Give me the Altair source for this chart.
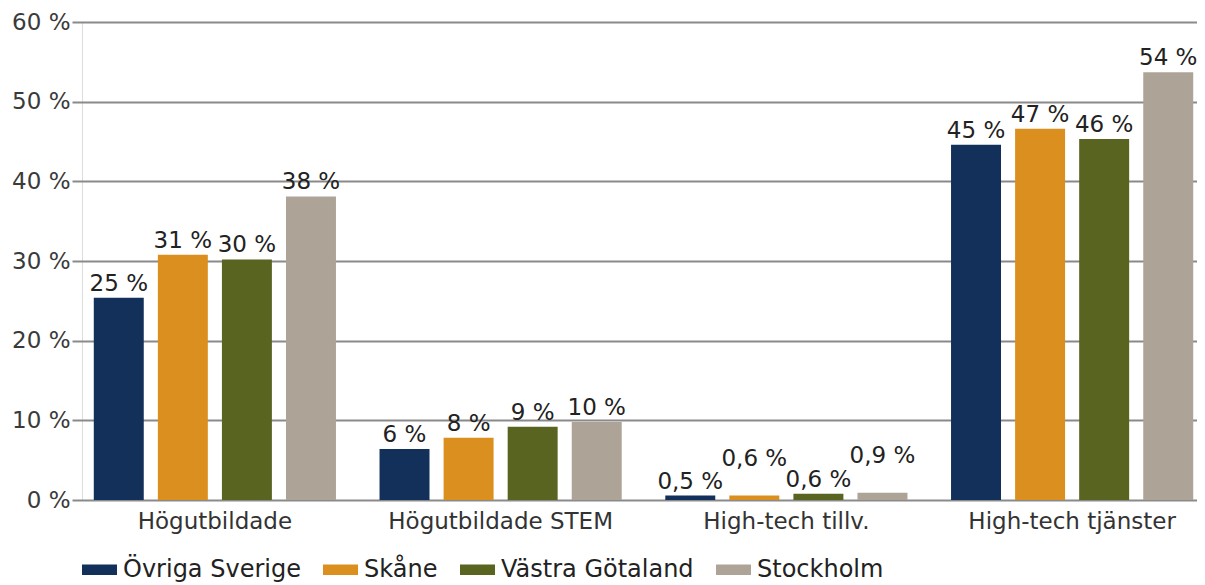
import altair as alt
import pandas as pd

groups = ["Högutbildade", "Högutbildade STEM", "High-tech tillv.", "High-tech tjänster"]
series = ["Övriga Sverige", "Skåne", "Västra Götaland", "Stockholm"]
colors = ["#13305a", "#db8f1f", "#586420", "#ada497"]

# values per group, in series order (percent)
hogutbildade = [25.4, 30.8, 30.2, 38.1]
stem = [6.4, 7.8, 9.2, 9.8]
tillv = [0.55, 0.55, 0.8, 0.9]
tjanster = [44.6, 46.6, 45.3, 53.7]

# value labels as printed in the chart
labels_hogutbildade = ["25 %", "31 %", "30 %", "38 %"]
labels_stem = ["6 %", "8 %", "9 %", "10 %"]
labels_tillv = ["0,5 %", "0,6 %", "0,6 %", "0,9 %"]
labels_tjanster = ["45 %", "47 %", "46 %", "54 %"]

y_ticks = [0, 10, 20, 30, 40, 50, 60]

rows = []
for g, vals, labs in zip(
    groups,
    [hogutbildade, stem, tillv, tjanster],
    [labels_hogutbildade, labels_stem, labels_tillv, labels_tjanster],
):
    for s, v, l in zip(series, vals, labs):
        rows.append({"group": g, "series": s, "value": v, "label": l})
df = pd.DataFrame(rows)

FONT = "DejaVu Sans"

x_enc = alt.X(
    "group:N",
    sort=groups,
    scale=alt.Scale(range=[-10, 1133], paddingInner=0, paddingOuter=0),
    axis=alt.Axis(
        title=None, labelAngle=0, domain=False, ticks=False, labelLimit=0,
        labelFont=FONT, labelFontSize=23, labelColor="#333333", labelPadding=10,
    ),
)
xoff = alt.XOffset("series:N", sort=series, scale=alt.Scale(paddingInner=0.22, paddingOuter=0.34))
y_enc = alt.Y(
    "value:Q",
    scale=alt.Scale(domain=[0, 60], nice=False),
    axis=alt.Axis(
        title=None, values=y_ticks, domain=False, ticks=False,
        labelExpr="datum.value + ' %'",
        labelFont=FONT, labelFontSize=23, labelColor="#3a3a3a", labelPadding=12,
        grid=True, gridColor="#8a8a8a", gridWidth=1.8,
    ),
)

bars = alt.Chart(df).mark_bar().encode(
    x=x_enc,
    xOffset=xoff,
    y=y_enc,
    color=alt.Color(
        "series:N",
        sort=series,
        scale=alt.Scale(domain=series, range=colors),
        legend=alt.Legend(
            title=None, orient="none", direction="horizontal",
            legendX=0, legendY=530,
            symbolType="M-1,-0.3H1V0.3H-1Z", symbolSize=1225,
            symbolStrokeWidth=0, labelLimit=0,
            labelFont=FONT, labelFontSize=24, labelColor="#222222",
            labelOffset=6, columnPadding=22,
        ),
    ),
)

lifted = (alt.datum.group == "High-tech tillv.") & (
    (alt.datum.series == "Skåne") | (alt.datum.series == "Stockholm")
)

text_base = alt.Chart(df).encode(
    x=alt.X("group:N", sort=groups),
    xOffset=alt.XOffset("series:N", sort=series),
    y="value:Q",
    text="label:N",
)

texts = text_base.transform_filter(~lifted).mark_text(
    font=FONT, fontSize=23, color="#222222", baseline="alphabetic", dy=-7
)
texts_lift = text_base.transform_filter(lifted).mark_text(
    font=FONT, fontSize=23, color="#222222", baseline="alphabetic", dy=-30
)

chart = (
    alt.layer(bars, texts, texts_lift)
    .properties(
        width=1115,
        height=478,
        autosize=alt.AutoSizeParams(type="none"),
        padding={"left": 74, "top": 14, "right": 0, "bottom": 85},
    )
    .configure_view(stroke=None)
    .configure(background="white")
)

chart.save("out.html", embed_options={"renderer": "svg", "actions": False})
